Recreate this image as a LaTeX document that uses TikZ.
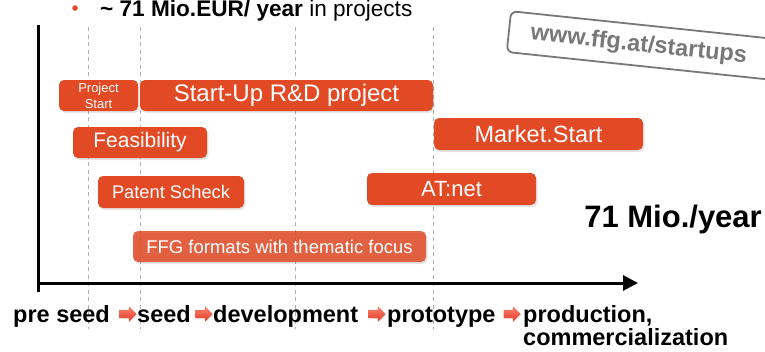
\documentclass[tikz,border=0pt]{standalone}
\usepackage{fontspec}
\setmainfont{Liberation Sans}
\usepackage{xcolor}
\usetikzlibrary{shapes, arrows.meta, shadows, positioning, calc}
\definecolor{ffgorange}{RGB}{226,74,38}
\definecolor{urlgrey}{RGB}{120,120,120}
\definecolor{phasegrey}{RGB}{175,175,175}
\definecolor{arrlight}{RGB}{250,130,110}
\definecolor{arrdark}{RGB}{228,60,40}

\begin{document}
\begin{tikzpicture}[x=1pt, y=-1pt,
    bar/.style={fill=ffgorange, text=white, rounded corners=5pt, inner sep=0pt,
        drop shadow={shadow xshift=1.5pt, shadow yshift=-2pt, opacity=0.2}},
    axis/.style={line width=3pt},
    phase/.style={phasegrey, line width=0.8pt, dash pattern=on 4pt off 3.5pt},
    stage/.style={anchor=base west, inner sep=0pt, font=\bfseries\fontsize{23.5}{27}\selectfont},
    next/.style={single arrow, single arrow head extend=3.5pt, inner xsep=0pt, inner ysep=4pt,
        minimum height=17pt, top color=arrlight, bottom color=arrdark,
        drop shadow={shadow xshift=1pt, shadow yshift=-1pt, opacity=0.2}}]
    \useasboundingbox (0,0) rectangle (765,351);

    \node[circle, fill=ffgorange, inner sep=0pt, minimum size=5.5pt] at (75,8) (dot) {};
    \node[anchor=base west, inner sep=0pt, font=\fontsize{22.6}{26}\selectfont] at (100,16) (budget)
        {\textbf{\textasciitilde{} 71 Mio.EUR/ year} in projects};

    \node[draw=urlgrey, line width=1.8pt, rounded corners=6pt, rotate=-6, anchor=west,
        text width=262pt, inner xsep=22pt, minimum height=41pt, text=urlgrey,
        font=\bfseries\fontsize{23.5}{26}\selectfont] at (508,31.5) (url) {www.ffg.at/startups};

    \foreach \x/\n in {88/a, 140/b, 295/c, 433/d} {
        \coordinate (top\n) at (\x,27);
        \coordinate (bot\n) at (\x,329);
        \draw[phase] (top\n) -- (bot\n);
    }

    \coordinate (ytop) at (38,25);
    \coordinate (ybot) at (38,292);
    \coordinate (origin) at (38,283);
    \coordinate (xend) at (638,283);
    \draw[axis] (ybot) -- (ytop);
    \draw[axis, -{Triangle[length=15pt, width=15pt]}] (origin) -- (xend);

    \node[bar, minimum width=79pt, minimum height=31pt, align=center,
        font=\fontsize{13}{16}\selectfont] at (98.5,95.5) (pstart) {Project\\Start};
    \node[bar, minimum width=293pt, minimum height=31pt, font=\fontsize{24}{28}\selectfont]
        at (286.5,95.5) (rdproj) {Start-Up R\&D project};
    \node[bar, minimum width=134pt, minimum height=31pt, font=\fontsize{21}{24}\selectfont]
        at (140,142.5) (feas) {Feasibility};
    \node[bar, minimum width=209pt, minimum height=32pt, font=\fontsize{23.5}{27}\selectfont]
        at (538.5,134) (mstart) {Market.Start};
    \node[bar, minimum width=146pt, minimum height=32pt, font=\fontsize{18.3}{21}\selectfont]
        at (171,192) (patent) {Patent Scheck};
    \node[bar, minimum width=169pt, minimum height=32pt, font=\fontsize{22}{26}\selectfont]
        at (451.5,189) (atnet) {AT:net};
    \node[bar, fill opacity=0.85, text opacity=1, minimum width=293pt, minimum height=31pt,
        font=\fontsize{18.5}{21}\selectfont] at (279.5,246.5) (ffgfmt) {FFG formats with thematic focus};

    \node[anchor=base east, inner sep=0pt, font=\bfseries\fontsize{31}{36}\selectfont]
        at (762,227) (total) {71 Mio./year};

    \node[stage] at (13,322) (preseed) {pre seed};
    \node[next] at (126,314) (arr1) {};
    \node[stage] at (137,322) (seed) {seed};
    \node[next] at (202,314) (arr2) {};
    \node[stage] at (213,322) (devel) {development};
    \node[next] at (375,314) (arr3) {};
    \node[stage] at (387,322) (proto) {prototype};
    \node[next] at (510,314) (arr4) {};
    \node[stage] at (523,322) (prod) {production,};
    \node[stage] at (523,345) (comm) {commercialization};
\end{tikzpicture}
\end{document}
